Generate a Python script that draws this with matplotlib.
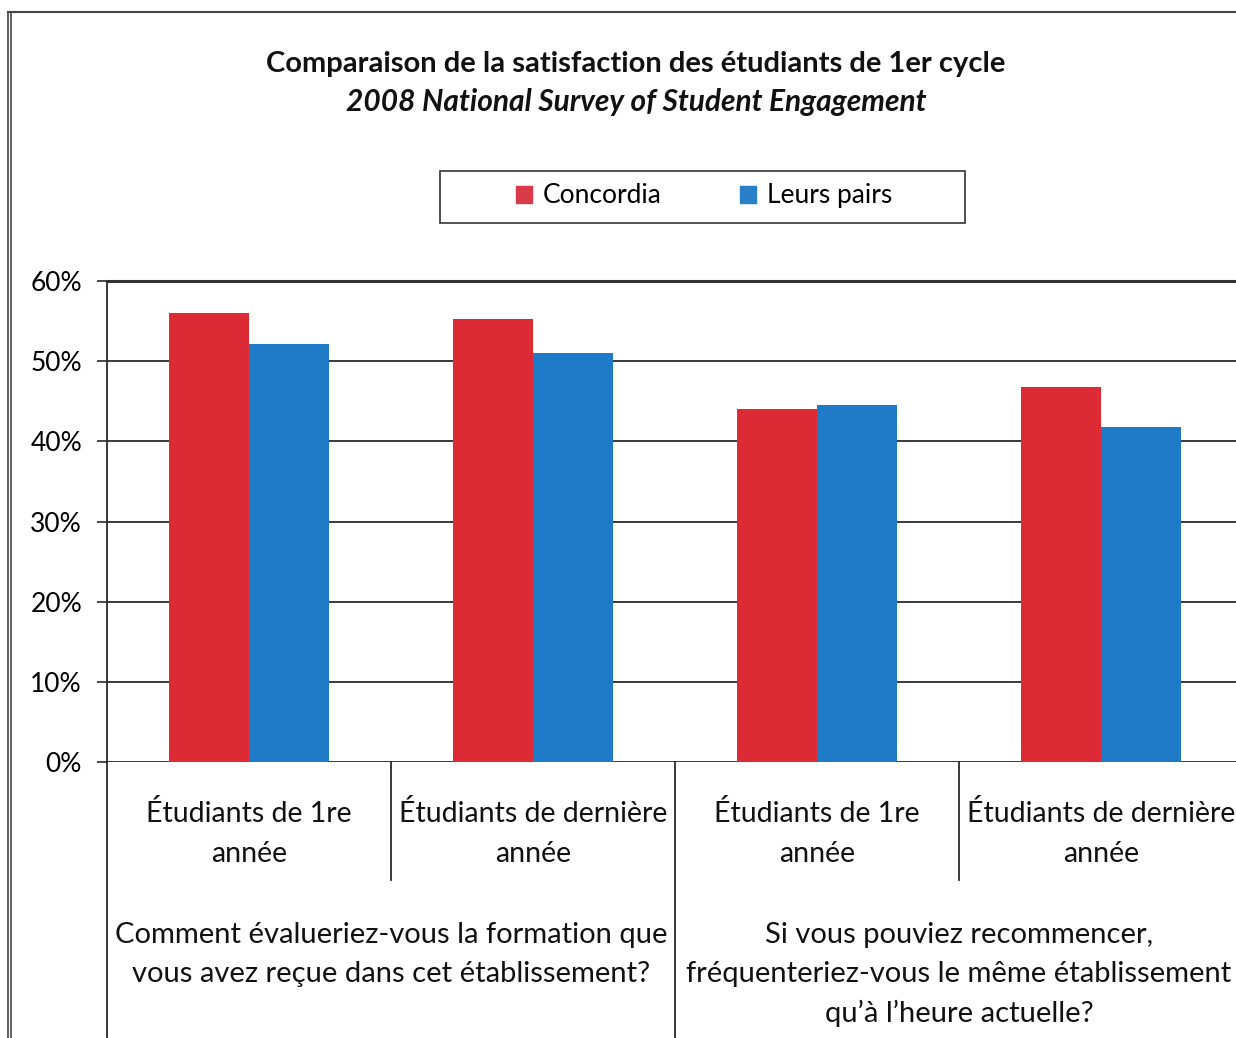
import numpy as np
import matplotlib
matplotlib.use("Agg")
import matplotlib.pyplot as plt
from matplotlib.patches import Patch, Rectangle
from matplotlib.lines import Line2D

plt.rcParams['font.family'] = ['Lato', 'DejaVu Sans']

# data
categories = ["Étudiants de 1re\nannée", "Étudiants de dernière\nannée",
              "Étudiants de 1re\nannée", "Étudiants de dernière\nannée"]
groups = ["Comment évalueriez-vous la formation que\nvous avez reçue dans cet établissement?",
          "Si vous pouviez recommencer,\nfréquenteriez-vous le même établissement\nqu\u2019à l\u2019heure actuelle?"]
concordia = [56.0, 55.2, 44.0, 46.8]
pairs = [52.1, 51.0, 44.5, 41.8]
yticks = [0, 10, 20, 30, 40, 50, 60]

red = '#dc2b35'
blue = '#1f7bc8'
ink = '#2a2a2a'

W, H = 1236, 1038
fig = plt.figure(figsize=(W / 100, H / 100), dpi=100)
ax = fig.add_axes([107 / W, 1 - 762 / H, 1136 / W, 481 / H])

x = np.arange(len(categories))
w = 0.283
ax.bar(x - w / 2, concordia, w, color=red, zorder=3)
ax.bar(x + w / 2, pairs, w, color=blue, zorder=3)

ax.set_xlim(-0.5, 3.5)
ax.set_ylim(0, 60)
ax.set_yticks(yticks)
ax.set_yticklabels([f"{v}%" for v in yticks])
ax.yaxis.grid(True, color=ink, lw=1.3)
ax.set_axisbelow(True)
ax.tick_params(axis='y', direction='out', length=7, width=1.2, color=ink,
               labelsize=19, pad=11)
ax.set_xticks([])
for s in ['right', 'bottom']:
    ax.spines[s].set_visible(False)
ax.spines['top'].set_color('#333333')
ax.spines['top'].set_linewidth(2.2)
ax.spines['left'].set_color(ink)
ax.spines['left'].set_linewidth(1.3)

xt = ax.get_xaxis_transform()
# category labels and dividers
for i, lab in enumerate(categories):
    ax.text(i, -0.148, lab, transform=xt, ha='center', va='center',
            fontsize=20.5, linespacing=1.65, color='#111111')
for xd, depth in [(-0.5, -0.6), (0.5, -0.245), (1.5, -0.6), (2.5, -0.245)]:
    ax.plot([xd, xd], [0, depth], transform=xt, clip_on=False, color=ink, lw=1.3)
for gi, g in enumerate(groups):
    ax.text(0.5 + 2 * gi, -0.333, g, transform=xt, ha='center', va='top',
            fontsize=21, linespacing=1.6, color='#111111')

# titles
fig.text(636 / W, 1 - 64 / H, "Comparaison de la satisfaction des étudiants de 1er cycle",
         ha='center', va='center', fontsize=21, fontweight='bold', color='#111111')
fig.text(636 / W, 1 - 102 / H, "2008 National Survey of Student Engagement",
         ha='center', va='center', fontsize=21.5, fontweight='bold', style='italic',
         color='#111111')

# legend
handles = [Patch(color='#d93a48'), Patch(color='#2a80c6')]
fig.legend(handles, ["Concordia", "Leurs pairs"], loc='center',
           bbox_to_anchor=(704 / W, 1 - 196 / H), ncol=2, frameon=False,
           fontsize=19, handlelength=0.6, handleheight=0.6, handletextpad=0.4,
           columnspacing=3.0)
fig.add_artist(Rectangle((440 / W, 1 - 223 / H), 525 / W, 52 / H,
                         transform=fig.transFigure, fill=False, ec='#333333', lw=1.2))

# outer frame of the scanned page
fig.add_artist(Line2D([8 / W, 8 / W], [0, 1 - 12 / H], transform=fig.transFigure,
                      color='#444444', lw=1.2))
fig.add_artist(Line2D([11 / W, 11 / W], [0, 1 - 12 / H], transform=fig.transFigure,
                      color='#444444', lw=1.2))
fig.add_artist(Line2D([8 / W, 1], [1 - 12 / H, 1 - 12 / H], transform=fig.transFigure,
                      color='#444444', lw=1.5))

fig.savefig("out.png", dpi=100)
